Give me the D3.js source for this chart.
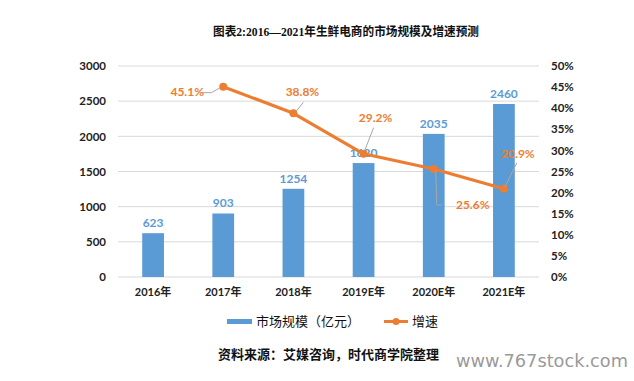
<!DOCTYPE html>
<html><head><meta charset="utf-8">
<script src="https://cdn.jsdelivr.net/npm/d3@7"></script>
<style>
body{margin:0;background:#fff;}
svg{display:block;}
</style></head>
<body><svg id="c" width="634" height="381"></svg>
<script>
const categories = ["2016年","2017年","2018年","2019E年","2020E年","2021E年"];
const marketSize = [623, 903, 1254, 1620, 2035, 2460];
const growth = [null, 45.1, 38.8, 29.2, 25.6, 20.9];
const leftTicks = [0,500,1000,1500,2000,2500,3000];
const rightTicks = [0,5,10,15,20,25,30,35,40,45,50];
// label offsets for growth labels (dx, dy from point)
const growthLabelPos = [null, {dx:-36,dy:5}, {dx:9,dy:-21}, {dx:12,dy:-36}, {dx:39,dy:36}, {dx:14,dy:-35}];

const svg = d3.select("#c");
const m={l:118,t:66};
const iw = 539-118, ih = 277-66;
const g = svg.append("g").attr("transform",`translate(${m.l},${m.t})`);
const x = d3.scaleBand().domain(categories).range([0,iw]).paddingInner(0.69).paddingOuter(0.345);
const y = d3.scaleLinear().domain([0,3000]).range([ih,0]);
const y2 = d3.scaleLinear().domain([0,50]).range([ih,0]);
const font = "Lato, 'Noto Sans CJK SC', sans-serif";
const blue="#5b9bd5", orange="#ed7d31";

// gridlines
g.append("g").selectAll("line").data(leftTicks).join("line")
 .attr("x1",0).attr("x2",iw).attr("y1",d=>y(d)).attr("y2",d=>y(d))
 .attr("stroke","#d9d9d9").attr("stroke-width",1);

// left axis
const la = g.append("g").call(d3.axisLeft(y).tickValues(leftTicks).tickFormat(d3.format("d")).tickSize(0).tickPadding(12));
la.select(".domain").remove();
la.selectAll("text").attr("font-family",font).attr("font-size",11.5).attr("font-weight","bold").attr("fill","#222");
// right axis
const ra = g.append("g").attr("transform",`translate(${iw},0)`).call(d3.axisRight(y2).tickValues(rightTicks).tickFormat(d=>d+"%").tickSize(0).tickPadding(12));
ra.select(".domain").remove();
ra.selectAll("text").attr("font-family",font).attr("font-size",11.5).attr("font-weight","bold").attr("fill","#222");
// bottom axis
const ba = g.append("g").attr("transform",`translate(0,${ih})`).call(d3.axisBottom(x).tickSize(0).tickPadding(11));
ba.select(".domain").remove();
ba.selectAll("text").attr("font-family",font).attr("font-size",11).attr("font-weight","bold").attr("fill","#222");

// bars
g.append("g").selectAll("rect").data(marketSize).join("rect")
 .attr("x",(d,i)=>x(categories[i])).attr("width",x.bandwidth())
 .attr("y",d=>y(d)).attr("height",d=>ih-y(d)).attr("fill",blue);
g.append("g").selectAll("text").data(marketSize).join("text")
 .attr("x",(d,i)=>x(categories[i])+x.bandwidth()/2).attr("y",d=>y(d)-6)
 .attr("text-anchor","middle").attr("font-family",font).attr("font-size",12).attr("font-weight","bold")
 .attr("fill",blue).text(d=>d);

// line
const pts = growth.map((v,i)=>v==null?null:{i,v,cx:x(categories[i])+x.bandwidth()/2,cy:y2(v)}).filter(d=>d);
const line = d3.line().x(d=>d.cx).y(d=>d.cy);
g.append("path").datum(pts).attr("d",line).attr("fill","none").attr("stroke",orange).attr("stroke-width",3.2).attr("stroke-linejoin","round");
g.append("g").selectAll("circle").data(pts).join("circle")
 .attr("cx",d=>d.cx).attr("cy",d=>d.cy).attr("r",4).attr("fill",orange);

// leader lines
const leaders = g.append("g").attr("stroke","#a6a6a6").attr("stroke-width",1).attr("fill","none");
pts.forEach(d=>{
  const p=growthLabelPos[d.i];
  const lx=d.cx+p.dx;
  let path;
  if(d.i===1) path=`M${d.cx-3},${d.cy+1} L${d.cx-12},${d.cy+6} L${lx+15},${d.cy+6}`;
  else if(d.i===2) path=`M${d.cx+2},${d.cy-1} L${d.cx+10},${d.cy-11}`;
  else if(d.i===3) path=`M${d.cx+1},${d.cy-3} L${d.cx+10},${d.cy-26}`;
  else if(d.i===4) path=`M${d.cx+2},${d.cy+2} L${d.cx+3},${d.cy+36} L${d.cx+8},${d.cy+36}`;
  else path=`M${d.cx+1},${d.cy-2} L${d.cx+13},${d.cy-26}`;
  leaders.append("path").attr("d",path);
});
g.append("g").selectAll("text").data(pts).join("text")
 .attr("x",d=>d.cx+growthLabelPos[d.i].dx).attr("y",d=>d.cy+growthLabelPos[d.i].dy+4)
 .attr("text-anchor","middle").attr("font-family",font).attr("font-size",12).attr("font-weight","bold")
 .attr("fill",orange).text(d=>d.v.toFixed(1)+"%");

// title
svg.append("text").attr("x",346).attr("y",36).attr("text-anchor","middle")
 .attr("font-family","'Liberation Serif','Noto Sans CJK SC',serif").attr("font-size",12.5).attr("font-weight","bold")
 .attr("textLength",266).attr("lengthAdjust","spacingAndGlyphs")
 .attr("fill","#111").text("图表2:2016—2021年生鲜电商的市场规模及增速预测");

// legend
const lg = svg.append("g");
lg.append("rect").attr("x",227).attr("y",319).attr("width",25).attr("height",5).attr("fill",blue);
lg.append("text").attr("x",256).attr("y",326).attr("font-family","'Noto Sans CJK SC',sans-serif").attr("font-size",13).attr("fill","#111").text("市场规模（亿元）");
lg.append("line").attr("x1",384).attr("x2",408).attr("y1",321.5).attr("y2",321.5).attr("stroke",orange).attr("stroke-width",3);
lg.append("circle").attr("cx",396).attr("cy",321.5).attr("r",3.5).attr("fill",orange);
lg.append("text").attr("x",412).attr("y",326).attr("font-family","'Noto Sans CJK SC',sans-serif").attr("font-size",13).attr("fill","#111").text("增速");

// source
svg.append("text").attr("x",218).attr("y",359).attr("font-family","'Noto Sans CJK SC',sans-serif").attr("font-size",13).attr("font-weight","bold").attr("fill","#111").text("资料来源：艾媒咨询，时代商学院整理");

// watermark
svg.append("text").attr("x",456).attr("y",367).attr("font-family","'DejaVu Sans',sans-serif").attr("font-size",17)
 .attr("textLength",172).attr("lengthAdjust","spacingAndGlyphs").attr("fill","#9a9a9a").text("www.767stock.com");
</script></body></html>
